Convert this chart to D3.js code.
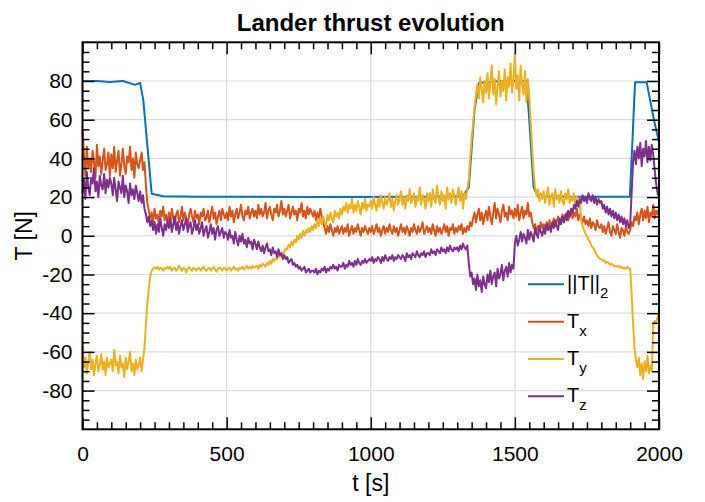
<!DOCTYPE html>
<html>
<head>
<meta charset="utf-8">
<script src="https://cdn.jsdelivr.net/npm/d3@7"></script>
<style>
  body { margin: 0; background: #fff; }
  svg { font-family: "Liberation Sans", Arial, Helvetica, sans-serif; }
</style>
</head>
<body>
<svg id="chart" width="705" height="502"></svg>
<script>
// components are sampled every 5 s, from 0 to 2000 s
const t = d3.range(0, 2001, 5);

// Tx [N], one row = 100 s (20 samples)
const tx = [
  55, 42, 31, 46, 35, 40, 33, 44, 38, 30, 47, 36, 41, 32, 39, 45, 34, 37, 43, 31,
  42, 35, 46, 33, 39, 44, 31, 37, 45, 36, 32, 41, 38, 46, 34, 40, 30, 43, 37, 35,
  39, 43, 34, 38, 26, 17, 13, 9, 12, 7, 14, 9, 11, 6, 13, 10, 15, 8, 11, 7,
  12, 8, 14, 9, 6, 11, 13, 7, 10, 15, 8, 12, 9, 5, 11, 14, 10, 7, 13, 9,
  11, 6, 12, 10, 14, 8, 9, 13, 7, 11, 15, 9, 12, 6, 10, 13, 8, 14, 11, 9,
  12, 8, 15, 10, 13, 7, 11, 14, 9, 12, 16, 10, 8, 13, 11, 15, 9, 12, 14, 10,
  13, 9, 16, 11, 14, 10, 12, 17, 9, 13, 15, 11, 8, 14, 12, 16, 10, 13, 18, 11,
  14, 10, 13, 16, 9, 12, 15, 11, 13, 8, 14, 12, 17, 10, 13, 9, 15, 11, 14, 12,
  10, 13, 8, 12, 9, 14, 10, 7, 4, 1, 5, 2, 6, 3, 0, 4, 2, 5, 1, 3,
  5, 1, 4, 2, 6, 0, 3, 5, 1, 4, 2, 6, 3, 0, 4, 2, 5, 3, 1, 4,
  2, 5, 1, 3, 6, 2, 4, 0, 3, 5, 1, 4, 2, 6, 3, 1, 5, 2, 4, 0,
  3, 6, 2, 4, 1, 5, 3, 0, 4, 2, 6, 3, 1, 5, 2, 4, 7, 1, 3, 5,
  2, 4, 1, 6, 3, 0, 5, 2, 4, 1, 3, 6, 2, 5, 0, 4, 3, 6, 1, 4,
  2, 5, 3, 6, 1, 4, 2, 5, 3, 7, 5, 9, 12, 7, 11, 14, 8, 12, 6, 10,
  13, 8, 15, 10, 6, 12, 17, 9, 14, 11, 7, 13, 16, 10, 12, 8, 15, 11, 13, 9,
  14, 10, 16, 8, 12, 15, 9, 13, 11, 17, 10, 12, 7, 4, 6, 2, 5, 3, 7, 4,
  6, 3, 7, 5, 8, 4, 6, 9, 5, 7, 10, 6, 8, 11, 7, 9, 12, 8, 10, 13,
  9, 12, 10, 14, 8, 11, 9, 7, 10, 6, 8, 5, 9, 4, 7, 6, 3, 8, 5, 4,
  6, 2, 5, 1, 4, 7, 2, 0, 5, 3, 1, 6, 2, -1, 4, 3, 0, 5, 2, 1,
  3, 7, 5, 10, 8, 12, 6, 11, 14, 8, 13, 9, 15, 7, 12, 10, 16, 9, 13, 11,
  14
];

// Ty [N]
const ty = [
  -57, -68, -63, -71, -65, -60, -69, -64, -72, -66, -62, -70, -67, -61, -69, -65, -72, -63, -68, -66,
  -64, -70, -59, -67, -65, -71, -62, -68, -66, -73, -63, -69, -65, -60, -70, -66, -72, -64, -69, -67,
  -63, -70, -64, -58, -46, -35, -27, -21, -18, -17, -16.5, -17, -16, -17.5, -16.5, -17, -18, -16.5, -17, -16,
  -17, -16, -18, -17, -16.5, -18, -17, -15.5, -17, -18, -16.5, -17, -19, -17, -16, -17.5, -18, -16.5, -17, -18,
  -17, -16.5, -18, -17, -16, -17.5, -18, -17, -16.5, -18, -17, -16, -17.5, -18.5, -17, -16.5, -17, -18, -16.5, -17,
  -18, -17, -16.5, -18, -17, -16, -17.5, -17, -18, -16.5, -17, -16, -17.5, -16.5, -15.5, -17, -16, -17, -15.5, -16.5,
  -16, -15.5, -17, -15, -16, -14.5, -15, -16, -14, -15, -13, -14.5, -12, -13, -11.5, -12, -10, -11, -9, -10,
  -8, -6.5, -7, -4.5, -6, -3, -5, -2, -3.5, 0, -2, 1, -1, 2.5, 0, 3, 1.5, 4, 2, 5,
  3, 6, 4, 8, 5, 9, 6, 10, 7, 5, 11, 8, 12, 9, 7, 13, 10, 12, 9, 14,
  11, 15, 13, 17, 12, 16, 14, 19, 12, 16, 13, 18, 15, 11, 17, 14, 19, 13, 16, 15,
  18, 14, 20, 16, 13, 19, 15, 21, 17, 14, 20, 16, 18, 22, 15, 19, 13, 18, 21, 16,
  19, 23, 16, 20, 14, 21, 18, 24, 17, 19, 22, 15, 20, 18, 25, 16, 21, 19, 14, 22,
  18, 22, 15, 24, 19, 17, 26, 20, 16, 23, 18, 21, 14, 25, 19, 22, 17, 24, 20, 16,
  21, 25, 18, 23, 14, 22, 19, 24, 29, 40, 50, 58, 66, 73, 78, 71, 82, 76, 69, 80,
  74, 84, 71, 79, 88, 73, 81, 68, 77, 85, 72, 80, 75, 86, 70, 82, 77, 89, 74, 80,
  94, 76, 83, 70, 88, 78, 73, 85, 69, 81, 72, 58, 45, 33, 25, 21, 24, 18, 22, 19,
  23, 17, 21, 25, 16, 20, 22, 15, 24, 19, 21, 17, 23, 18, 16, 22, 19, 24, 17, 20,
  18, 22, 16, 20, 17, 19, 8, 5, 3, 1, 0, -2, -3, -5, -6, -7, -9, -10, -11, -12,
  -12, -13, -12.5, -14, -13.5, -14, -15, -14.5, -15, -16, -15.5, -16, -15.5, -16.5, -16, -17, -16.5, -17, -16, -17,
  -17, -30, -45, -58, -64, -68, -63, -72, -66, -74, -65, -70, -62, -71, -67, -70, -46, -44, -45, -42,
  -40
];

// Tz [N]
const tz = [
  22, 29, 19, 33, 25, 21, 30, 27, 35, 23, 28, 20, 31, 26, 24, 32, 22, 29, 25, 30,
  27, 21, 30, 24, 18, 28, 25, 22, 31, 20, 26, 23, 17, 27, 21, 24, 19, 26, 22, 18,
  23, 17, 21, 14, 11, 7, 10, 5, 8, 3, 7, 1, 6, 2, 9, 4, 0, 6, 3, 8,
  4, 9, 2, 6, 10, 3, 7, 1, 5, 8, 3, 6, 9, 2, 5, 7, 1, 4, 8, 3,
  6, 1, 4, 7, 0, 3, 5, -1, 2, 6, 1, 4, -2, 3, 5, 0, 2, 4, -1, 2,
  1, -2, 3, -1, 0, -4, 2, -2, -5, 0, -3, 1, -4, -2, -6, -1, -4, -3, -7, -2,
  -4, -7, -3, -6, -8, -5, -9, -6, -4, -8, -7, -10, -6, -9, -8, -11, -7, -10, -9, -12,
  -10, -12, -11, -14, -13, -12, -15, -14, -16, -15, -17, -16, -18, -17, -16, -19, -18, -17, -19, -18,
  -18, -19, -17, -20, -18, -19, -17, -18, -16, -19, -17, -18, -16, -17, -15, -17, -16, -18, -15, -16,
  -16, -14, -17, -15, -16, -13, -15, -14, -16, -13, -15, -12, -14, -15, -13, -14, -12, -14, -13, -12,
  -13, -11, -14, -12, -13, -11, -12, -14, -11, -13, -10, -12, -13, -11, -12, -10, -13, -11, -12, -10,
  -11, -12, -10, -11, -13, -9, -11, -10, -12, -9, -10, -11, -8, -10, -11, -9, -10, -8, -11, -9,
  -9, -10, -7, -9, -8, -10, -7, -8, -9, -6, -8, -7, -9, -6, -8, -5, -7, -8, -6, -7,
  -6, -8, -5, -7, -4, -6, -7, -5, -14, -21, -19, -25, -22, -28, -20, -26, -23, -29, -21, -25,
  -27, -20, -24, -18, -25, -21, -19, -26, -17, -22, -20, -15, -23, -18, -16, -21, -14, -19, -15, -17,
  -4, 0, -5, -2, 2, -3, 1, -1, -4, 3, -2, 2, 0, -3, 4, 1, -1, 5, 2, 0,
  4, 1, 6, 3, 5, 2, 7, 4, 8, 5, 3, 9, 6, 10, 7, 11, 8, 13, 10, 14,
  12, 16, 14, 18, 15, 19, 17, 21, 18, 20, 17, 22, 19, 18, 21, 17, 20, 16, 19, 17,
  18, 14, 16, 12, 15, 11, 14, 10, 13, 9, 12, 8, 11, 7, 10, 6, 9, 5, 8, 4,
  6, 22, 38, 44, 37, 46, 40, 48, 36, 45, 41, 49, 38, 46, 39, 47, 42, 34, 27, 22,
  20
];

// ||T||_2 [N], smooth, own time stamps
const tNorm = [0, 50, 95, 140, 183, 200, 211, 240, 280, 400, 800, 1200, 1320, 1340, 1360, 1375, 1450, 1540, 1550, 1565, 1580, 1700, 1899, 1917, 1957, 1983, 2000];
const norm  = [80, 80, 79.5, 80, 78, 79, 70, 21.7, 20.4, 20.2, 20.1, 20.2, 20.5, 25, 65, 79, 80, 80, 60, 25, 20.5, 20.2, 20.2, 79.4, 79.4, 59.6, 48.4];

const xMajor = [0, 500, 1000, 1500, 2000];
const yMajor = [-80, -60, -40, -20, 0, 20, 40, 60, 80];

const colors = ["#0072BD", "#D95319", "#EDB120", "#7E2F8E"];

const svg = d3.select("#chart");

const x = d3.scaleLinear().domain([0, 2000]).range([82.5, 659]);
const y = d3.scaleLinear().domain([-100, 100]).range([429.3, 42.3]);

const xMinor = d3.range(0, 2001, 50).filter(v => v % 500 != 0);
const yMinor = d3.range(-100, 101, 5).filter(v => v % 20 != 0);

// grid
const grid = svg.append("g").attr("stroke", "#dcdcdc").attr("stroke-width", 1.2);
grid.selectAll(".gx").data(xMajor).join("line")
  .attr("x1", d => x(d)).attr("x2", d => x(d))
  .attr("y1", y(-100)).attr("y2", y(100));
grid.selectAll(".gy").data(yMajor).join("line")
  .attr("x1", x(0)).attr("x2", x(2000))
  .attr("y1", d => y(d)).attr("y2", d => y(d));

// series
function series(xs, ys, col) {
  const line = d3.line().x((d, i) => x(xs[i])).y(d => y(d));
  svg.append("path")
    .datum(ys)
    .attr("d", line)
    .attr("fill", "none")
    .attr("stroke", col)
    .attr("stroke-width", 2)
    .attr("stroke-linejoin", "round");
}
series(tNorm, norm, colors[0]);
series(t, tx, colors[1]);
series(t, ty, colors[2]);
series(t, tz, colors[3]);

// axes, ticks pointing in
function styleAxis(g) {
  g.select(".domain").remove();
  g.selectAll("line").attr("stroke", "#000").attr("stroke-width", 1.5);
  g.selectAll("text").attr("fill", "#000").style("font-size", "21px");
}
const noLabel = () => "";

svg.append("g").attr("transform", `translate(0,${y(-100)})`)
  .call(d3.axisBottom(x).tickValues(xMajor).tickSizeInner(-12).tickSizeOuter(0).tickPadding(17).tickFormat(d => String(d)))
  .call(styleAxis);
svg.append("g").attr("transform", `translate(0,${y(-100)})`)
  .call(d3.axisBottom(x).tickValues(xMinor).tickSizeInner(-7).tickSizeOuter(0).tickFormat(noLabel))
  .call(styleAxis);
svg.append("g").attr("transform", `translate(0,${y(100)})`)
  .call(d3.axisTop(x).tickValues(xMajor).tickSizeInner(-12).tickSizeOuter(0).tickFormat(noLabel))
  .call(styleAxis);
svg.append("g").attr("transform", `translate(0,${y(100)})`)
  .call(d3.axisTop(x).tickValues(xMinor).tickSizeInner(-7).tickSizeOuter(0).tickFormat(noLabel))
  .call(styleAxis);

svg.append("g").attr("transform", `translate(${x(0)},0)`)
  .call(d3.axisLeft(y).tickValues(yMajor).tickSizeInner(-12).tickSizeOuter(0).tickPadding(10).tickFormat(d => String(d)))
  .call(styleAxis);
svg.append("g").attr("transform", `translate(${x(0)},0)`)
  .call(d3.axisLeft(y).tickValues(yMinor).tickSizeInner(-7).tickSizeOuter(0).tickFormat(noLabel))
  .call(styleAxis);
svg.append("g").attr("transform", `translate(${x(2000)},0)`)
  .call(d3.axisRight(y).tickValues(yMajor).tickSizeInner(-12).tickSizeOuter(0).tickFormat(noLabel))
  .call(styleAxis);
svg.append("g").attr("transform", `translate(${x(2000)},0)`)
  .call(d3.axisRight(y).tickValues(yMinor).tickSizeInner(-7).tickSizeOuter(0).tickFormat(noLabel))
  .call(styleAxis);

// box
svg.append("rect")
  .attr("x", x(0)).attr("y", y(100))
  .attr("width", x(2000) - x(0)).attr("height", y(-100) - y(100))
  .attr("fill", "none").attr("stroke", "#000").attr("stroke-width", 2);

// title and axis labels
svg.append("text")
  .attr("x", (x(0) + x(2000)) / 2).attr("y", 31)
  .attr("text-anchor", "middle")
  .style("font-size", "24px").style("font-weight", "bold")
  .text("Lander thrust evolution");

svg.append("text")
  .attr("x", (x(0) + x(2000)) / 2).attr("y", 491)
  .attr("text-anchor", "middle")
  .style("font-size", "23px")
  .text("t [s]");

svg.append("text")
  .attr("transform", `translate(32,${(y(-100) + y(100)) / 2}) rotate(-90)`)
  .attr("text-anchor", "middle")
  .style("font-size", "23px")
  .text("T [N]");

// legend (no box)
const legendMain = ["||T||", "T", "T", "T"];
const legendSub = ["2", "x", "y", "z"];
const legY = [284.3, 321.7, 359, 396.3];

const leg = svg.append("g");
legY.forEach((ly, i) => {
  leg.append("line")
    .attr("x1", 528).attr("x2", 564)
    .attr("y1", ly).attr("y2", ly)
    .attr("stroke", colors[i]).attr("stroke-width", 2);
  const txt = leg.append("text")
    .attr("x", 567).attr("y", ly + 6)
    .style("font-size", "20px");
  txt.append("tspan").text(legendMain[i]);
  txt.append("tspan").attr("dy", 8).style("font-size", "15px").text(legendSub[i]);
});
</script>
</body>
</html>
